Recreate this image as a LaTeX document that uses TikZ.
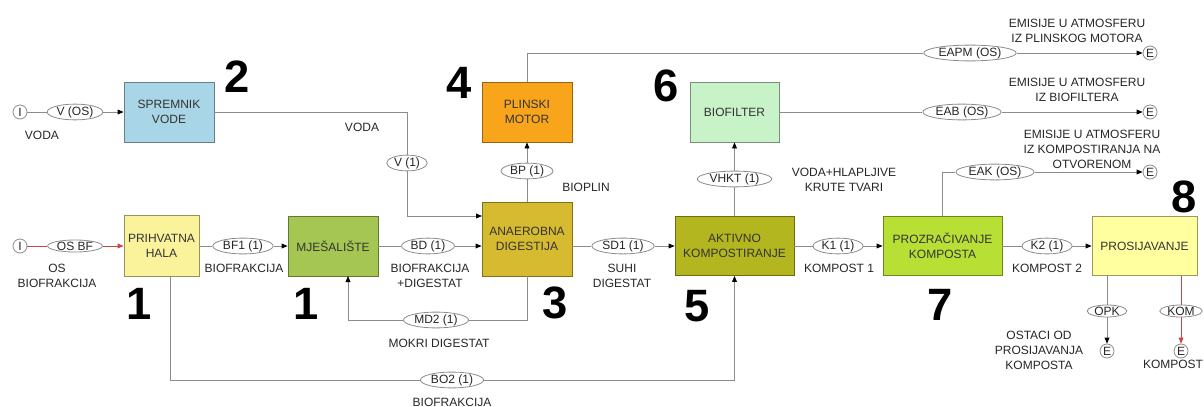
\documentclass[tikz,border=0pt]{standalone}
\usepackage{fontspec}
\setmainfont{Liberation Sans}
\usepackage{xcolor}
\usetikzlibrary{arrows.meta, shapes.geometric, positioning}
\definecolor{cSpremnik}{HTML}{A9D6E6}
\definecolor{cPlinski}{HTML}{F8A51C}
\definecolor{cBiofilter}{HTML}{C8F2C8}
\definecolor{cPrihvat}{HTML}{FAF39B}
\definecolor{cMjesal}{HTML}{A6C653}
\definecolor{cAnaerob}{HTML}{D6BA30}
\definecolor{cAktivno}{HTML}{B4B61F}
\definecolor{cProzrac}{HTML}{B8DF34}
\definecolor{cProsij}{HTML}{FFFF9F}
\definecolor{cLine}{HTML}{8C8C8C}
\definecolor{cRed}{HTML}{CC4444}
\def\px{0.75pt}
\def\boxW{90*\px}
\def\boxH{60*\px}
\newcommand{\flowfont}{\fontsize{9}{11.25}\selectfont}
\newcommand{\numfont}{\fontsize{34}{34}\selectfont\bfseries}

\begin{document}
\begin{tikzpicture}[
    x=\px, y=-\px,
    line width=0.6pt,
    draw=cLine,
    >={Triangle[length=4.5pt,width=3.6pt,color=black]},
    unit/.style={draw=#1!60!black, fill=#1, align=center, inner sep=1pt, text=black!80,
        font=\flowfont, minimum width=\boxW, minimum height=\boxH},
    flow/.style={ellipse, draw=cLine, fill=white, inner xsep=1pt, inner ysep=0pt,
        text=black!85, font=\flowfont},
    term/.style={circle, draw=cLine, fill=white, inner sep=0pt, minimum size=10.5pt,
        text=black!85, font=\flowfont},
    note/.style={align=center, text=black!85, font=\flowfont},
    num/.style={font=\numfont},
    redflow/.style={draw=cRed, -{Triangle[length=4.5pt,width=3.6pt,color=cRed]}}
]
\useasboundingbox (0,0) rectangle (1204,407);

% units
\node[unit=cSpremnik] (spremnik) at (169,112) {SPREMNIK\\VODE};
\node[unit=cPlinski] (plinski) at (527,112) {PLINSKI\\MOTOR};
\node[unit=cBiofilter, minimum width=89*\px] (biofilter) at (734.5,112) {BIOFILTER};
\node[unit=cPrihvat, minimum width=75*\px, minimum height=61*\px] (prihvat) at (161.5,246) {PRIHVATNA\\HALA};
\node[unit=cMjesal] (mjesal) at (333,246) {MJEŠALIŠTE};
\node[unit=cAnaerob, minimum height=74*\px] (anaerob) at (527,239) {ANAEROBNA\\DIGESTIJA};
\node[unit=cAktivno, minimum width=119*\px, minimum height=59*\px] (aktivno) at (734.5,246) {AKTIVNO\\KOMPOSTIRANJE};
\node[unit=cProzrac, minimum width=119*\px, minimum height=59*\px] (prozrac) at (942.5,246) {PROZRAČIVANJE\\KOMPOSTA};
\node[unit=cProsij, minimum width=105*\px, minimum height=59*\px] (prosij) at (1144.5,246) {PROSIJAVANJE};

% unit numbers
\node[num] (n2) at (237,77) {2};
\node[num] (n4) at (459,83) {4};
\node[num] (n6) at (666,86) {6};
\node[num] (n1a) at (139,304) {1};
\node[num] (n1b) at (306,304) {1};
\node[num] (n3) at (555,303) {3};
\node[num] (n5) at (697,306) {5};
\node[num] (n7) at (940,305) {7};
\node[num] (n8) at (1184,197) {8};

% inputs and outputs
\node[term] (iV) at (20,112) {I};
\node[term] (iOS) at (20,246) {I};
\node[term] (eEAPM) at (1150,53) {E};
\node[term] (eEAB) at (1150,112) {E};
\node[term] (eEAK) at (1150,172) {E};
\node[term] (eOPK) at (1107,351) {E};
\node[term] (eKOM) at (1181,351) {E};

% flows
\node[flow] (vos) at (75,112) {V (OS)};
\node[flow] (v1) at (407,163) {V (1)};
\node[flow] (bp) at (527,171) {BP (1)};
\node[flow] (vhkt) at (734.5,179) {VHKT (1)};
\node[flow] (osbf) at (75,246) {OS BF};
\node[flow] (bf1) at (243,246) {BF1 (1)};
\node[flow] (bd) at (428,246) {BD (1)};
\node[flow] (sd1) at (623,246) {SD1 (1)};
\node[flow] (k1) at (838,246) {K1 (1)};
\node[flow] (k2) at (1047,246) {K2 (1)};
\node[flow] (md2) at (436,320) {MD2 (1)};
\node[flow] (bo2) at (452,380) {BO2 (1)};
\node[flow] (eapm) at (970,53) {EAPM (OS)};
\node[flow] (eab) at (962,112) {EAB (OS)};
\node[flow] (eak) at (995,172) {EAK (OS)};
\node[flow] (opk) at (1107,311) {OPK};
\node[flow] (kom) at (1181,311) {KOM};

\coordinate (vin) at (482,216);
\coordinate (mdin) at (348,276);
\coordinate (boout) at (170,277);
\coordinate (opkout) at (1107,276);
\coordinate (komout) at (1181,276);

\draw[->] (iV) -- (vos) -- (spremnik);
\draw[->] (spremnik) -| (v1) |- (vin);
\draw[->] (anaerob) -- (bp) -- (plinski);
\draw[->] (plinski) |- (eapm) -- (eEAPM);
\draw[->] (aktivno) -- (vhkt) -- (biofilter);
\draw[->] (biofilter) -- (eab) -- (eEAB);
\draw[redflow] (iOS) -- (osbf) -- (prihvat);
\draw[->] (prihvat) -- (bf1) -- (mjesal);
\draw[->] (mjesal) -- (bd) -- (anaerob.west |- bd);
\draw[->] (anaerob.east |- sd1) -- (sd1) -- (aktivno);
\draw[->] (aktivno) -- (k1) -- (prozrac);
\draw[->] (prozrac) -- (k2) -- (prosij);
\draw[->] (anaerob) |- (md2) -| (mdin);
\draw[->] (boout) |- (bo2) -| (aktivno);
\draw[->] (prozrac) |- (eak) -- (eEAK);
\draw[->] (opkout) -- (opk) -- (eOPK);
\draw[redflow] (komout) -- (kom) -- (eKOM);

% labels
\node[note] (lVoda) at (42,135) {VODA};
\node[note] (lVoda2) at (362,127) {VODA};
\node[note] (lOs) at (57,275.5) {OS\\BIOFRAKCIJA};
\node[note] (lBf1) at (244,268) {BIOFRAKCIJA};
\node[note] (lBd) at (430,275.5) {BIOFRAKCIJA\\+DIGESTAT};
\node[note] (lBp) at (586,187) {BIOPLIN};
\node[note] (lSd1) at (622,275.5) {SUHI\\DIGESTAT};
\node[note] (lMd2) at (439,343) {MOKRI DIGESTAT};
\node[note] (lBo2) at (452,402) {BIOFRAKCIJA};
\node[note] (lK1) at (839,268) {KOMPOST 1};
\node[note] (lK2) at (1047,268) {KOMPOST 2};
\node[note] (lVhkt) at (844,179.5) {VODA+HLAPLJIVE\\KRUTE TVARI};
\node[note] (lOpk) at (1039,350) {OSTACI OD\\PROSIJAVANJA\\KOMPOSTA};
\node[note] (lKom) at (1173,364) {KOMPOST};
\node[note] (lEapm) at (1077,30.5) {EMISIJE U ATMOSFERU\\IZ PLINSKOG MOTORA};
\node[note] (lEab) at (1077,89.5) {EMISIJE U ATMOSFERU\\IZ BIOFILTERA};
\node[note] (lEak) at (1092,149) {EMISIJE U ATMOSFERU\\IZ KOMPOSTIRANJA NA\\OTVORENOM};
\end{tikzpicture}
\end{document}
